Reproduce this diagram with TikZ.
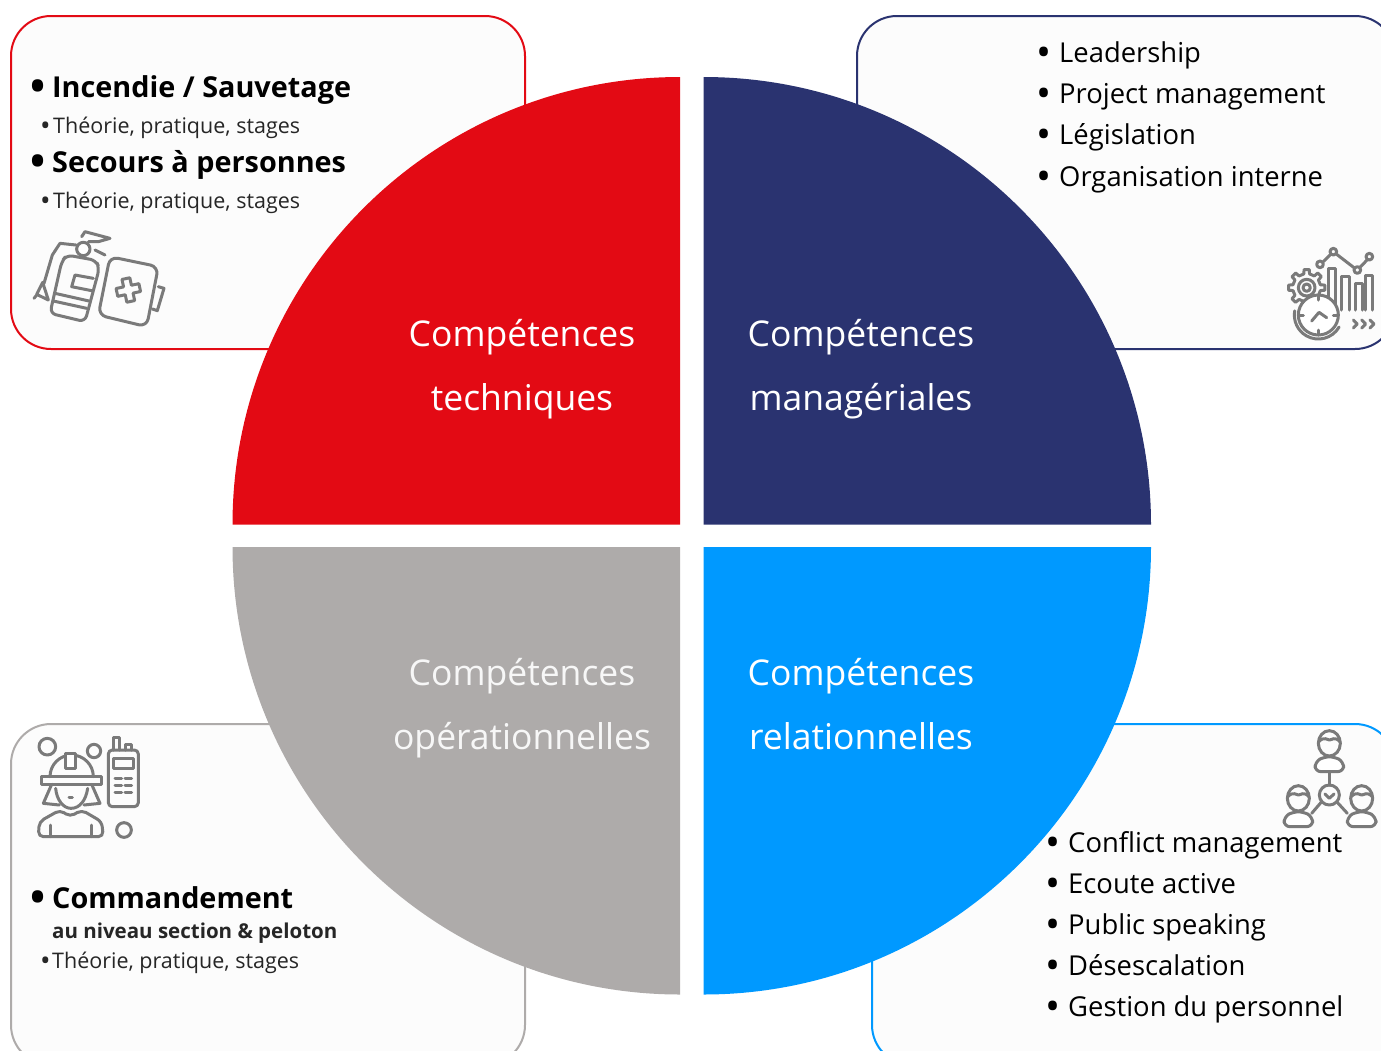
\documentclass[tikz,border=0pt]{standalone}
\usepackage{fontspec}
\setmainfont{Open Sans}
\definecolor{redq}{HTML}{E30A14}
\definecolor{navyq}{HTML}{2A3370}
\definecolor{grayq}{HTML}{AEABAA}
\definecolor{blueq}{HTML}{0099FF}
\definecolor{iconq}{HTML}{7A7A7A}
\newcommand{\bulletmark}[3]{\makebox[#1][l]{\raisebox{#2}{\fontsize{#3}{#3}\selectfont •}}}
\tikzset{
    cardbox/.style={line width=2pt, fill=white!99!black, rounded corners=40pt},
    quartertitle/.style={text=white, font=\fontsize{35.5}{35.5}\selectfont, anchor=base, inner sep=0pt},
    headline/.style={anchor=base west, inner sep=0pt, font=\fontsize{28.8}{28.8}\selectfont\bfseries},
    subline/.style={anchor=base west, inner sep=0pt, font=\fontsize{21.5}{21.5}\selectfont, text=black!85},
    listline/.style={anchor=base west, inner sep=0pt, font=\fontsize{27.4}{27.4}\selectfont},
    iconline/.style={draw=iconq, line width=3pt, line join=round, line cap=round},
}
\begin{document}
\begin{tikzpicture}[x=1pt, y=-1pt]
    \clip (0, 0) rectangle (1381, 1050);
    \draw[cardbox, draw=redq] (11, 16) rectangle (525, 349);
    \draw[cardbox, draw=navyq] (857, 16) rectangle (1395, 349);
    \draw[cardbox, draw=grayq] (11, 724) rectangle (525, 1065);
    \draw[cardbox, draw=blueq] (872, 724) rectangle (1395, 1065);
    \fill[redq] (680, 524.5) -- (232.5, 524.5) arc[start angle=180, end angle=270, radius=447.5] -- cycle;
    \fill[navyq] (703.5, 524.5) -- (703.5, 77) arc[start angle=270, end angle=360, radius=447.5] -- cycle;
    \fill[blueq] (703.5, 547) -- (1151, 547) arc[start angle=0, end angle=90, radius=447.5] -- cycle;
    \fill[grayq] (680, 547) -- (680, 994.5) arc[start angle=90, end angle=180, radius=447.5] -- cycle;
    \node[quartertitle] (techa) at (522, 346) {Compétences};
    \node[quartertitle] (techb) at (522, 410) {techniques};
    \node[quartertitle] (mana) at (861, 346) {Compétences};
    \node[quartertitle] (manb) at (861, 410) {managériales};
    \node[quartertitle, text=white!90!grayq] (opa) at (522, 685) {Compétences};
    \node[quartertitle, text=white!90!grayq] (opb) at (522, 749) {opérationnelles};
    \node[quartertitle] (rela) at (861, 685) {Compétences};
    \node[quartertitle] (relb) at (861, 749) {relationnelles};
    \node[headline] (fire) at (30, 97) {\bulletmark{22pt}{-3pt}{40}Incendie / Sauvetage};
    \node[subline] (firesub) at (40, 133) {\bulletmark{13pt}{-2pt}{28}Théorie, pratique, stages};
    \node[headline] (rescue) at (30, 172) {\bulletmark{22pt}{-3pt}{40}Secours à personnes};
    \node[subline] (rescuesub) at (40, 208) {\bulletmark{13pt}{-2pt}{28}Théorie, pratique, stages};
    \node[headline] (command) at (30, 908) {\bulletmark{22pt}{-3pt}{40}Commandement};
    \node[subline, font=\fontsize{20.5}{20.5}\selectfont\bfseries] (commandsub) at (52, 938) {au niveau section \& peloton};
    \node[subline] (commandtxt) at (40, 968) {\bulletmark{12pt}{-2pt}{28}Théorie, pratique, stages};
    \foreach \name/\ypos/\txt in {lead/62/Leadership, proj/103/Project management, legis/144/Législation, orga/186/Organisation interne}
        \node[listline] (\name) at (1036, \ypos) {\bulletmark{23pt}{-4pt}{40}\txt};
    \foreach \name/\ypos/\txt in {confl/852/Conflict management, ecoute/893/Ecoute active, public/934/Public speaking, desesc/975/Désescalation, gestion/1016/Gestion du personnel}
        \node[listline] (\name) at (1045, \ypos) {\bulletmark{23pt}{-4pt}{40}\txt};
    % extinguisher and first aid kit
    \begin{scope}[shift={(20, 225)}, scale=1/3, iconline]
        \draw[rounded corners=6pt] (140, 90) -- (228, 106) -- (238, 130) -- (195, 290) -- (90, 265) -- (125, 110) -- cycle;
        \draw[fill=white] (190, 72) circle (20);
        \draw (105, 205) -- (207, 228) (100, 228) -- (200, 250);
        \draw (165, 150) -- (155, 185) -- (215, 197) (165, 150) -- (220, 160);
        \draw (168, 60) -- (120, 55) -- (97, 90) -- (72, 175);
        \draw (68, 172) -- (50, 208) -- (85, 225) -- cycle (50, 210) -- (42, 220);
        \draw (185, 35) -- (195, 20) -- (270, 40) -- (235, 50) -- (205, 50);
        \draw (225, 75) -- (255, 90);
        \draw[rounded corners=8pt] (270, 95) -- (415, 125) -- (380, 305) -- (235, 270) -- cycle;
        \draw (415, 185) -- (432, 190) -- (412, 257) -- (397, 252);
        \draw[rotate around={12:(325, 195)}, shift={(325, 195)}] (-12, -35) -- (12, -35) -- (12, -12) -- (35, -12) -- (35, 12) -- (12, 12) -- (12, 35) -- (-12, 35) -- (-12, 12) -- (-35, 12) -- (-35, -12) -- (-12, -12) -- cycle;
    \end{scope}
    % chart, gear and clock
    \begin{scope}[shift={(1270, 235)}, scale=1/3, iconline]
        \foreach \px/\py/\ph in {175/100/125, 215/125/100, 255/145/80, 285/120/105}
            \draw (\px, \py + \ph) -- (\px, \py) -- (\px + 22, \py) -- (\px + 22, \py + \ph);
        \draw (160, 80) -- (182, 58) (200, 58) -- (252, 98) (270, 97) -- (292, 74);
        \foreach \cx/\cy in {150/88, 190/50, 262/105, 298/65}
            \draw (\cx, \cy) circle (10);
        \foreach \a in {0, 45, ..., 315}
            \draw[shift={(110, 158)}] (\a - 12:42) -- (\a - 8:55) -- (\a + 8:55) -- (\a + 12:42) -- (\a + 33:42);
        \draw (110, 158) circle (25) (110, 158) circle (11);
        \draw[fill=white] (145, 240) circle (60);
        \draw (145, 240) + (30:72) arc[start angle=30, end angle=190, radius=72];
        \draw (145, 180) -- (145, 195) (145, 285) -- (145, 300) (85, 240) -- (100, 240) (190, 240) -- (205, 240);
        \draw (125, 258) -- (147, 232) -- (170, 248);
        \foreach \cx in {250, 275, 300}
            \draw (\cx, 255) -- (\cx + 12, 267) -- (\cx, 279);
    \end{scope}
    % firefighter and radio
    \begin{scope}[shift={(20, 725)}, scale=1/3, iconline]
        \draw (82, 65) circle (25) (222, 78) circle (20) (312, 315) circle (22);
        \draw[rounded corners=4pt] (265, 75) rectangle (355, 245);
        \draw (280, 75) -- (280, 38) -- (298, 38) -- (298, 75) (315, 75) -- (315, 58) -- (335, 58) -- (335, 75);
        \draw (280, 100) rectangle (340, 130);
        \foreach \ky in {160, 182, 203}
            \draw (285, \ky) -- (305, \ky) (315, \ky) -- (335, \ky);
        \draw (90, 155) arc[start angle=180, end angle=360, radius=65];
        \draw (65, 155) rectangle (245, 178);
        \draw[fill=white] (135, 85) rectangle (165, 130);
        \draw (95, 178) -- (70, 235) -- (118, 240) (215, 178) -- (240, 235) -- (192, 240);
        \draw (107, 190) .. controls (110, 225) and (130, 250) .. (153, 250) .. controls (180, 250) and (198, 225) .. (203, 190);
        \draw (147, 218) -- (157, 218);
        \draw[rounded corners=5pt] (55, 335) -- (58, 290) -- (120, 255) -- (150, 275) -- (185, 255) -- (245, 290) -- (250, 335) -- cycle;
        \draw (90, 335) -- (90, 300) (215, 335) -- (215, 300);
    \end{scope}
    % team around a clock
    \begin{scope}[shift={(1270, 720)}, scale=1/3, iconline]
        \foreach \hx/\hy in {178/70, 85/235, 275/235} {
            \draw (\hx, \hy) ellipse (33 and 38);
            \draw (\hx - 32, \hy - 5) .. controls (\hx - 15, \hy - 22) and (\hx - 5, \hy - 10) .. (\hx, \hy - 10) .. controls (\hx + 8, \hy - 10) and (\hx + 15, \hy - 22) .. (\hx + 32, \hy - 5);
            \draw[rounded corners=6pt, fill=white] (\hx - 43, \hy + 85) -- (\hx - 43, \hy + 55) -- (\hx - 15, \hy + 40) -- (\hx + 15, \hy + 40) -- (\hx + 43, \hy + 55) -- (\hx + 43, \hy + 85) -- cycle;
        }
        \draw (178, 155) -- (178, 195);
        \draw (178, 225) circle (30);
        \draw (165, 222) -- (178, 235) -- (192, 222);
        \draw (155, 245) -- (125, 280) (200, 245) -- (232, 280);
    \end{scope}
\end{tikzpicture}
\end{document}
